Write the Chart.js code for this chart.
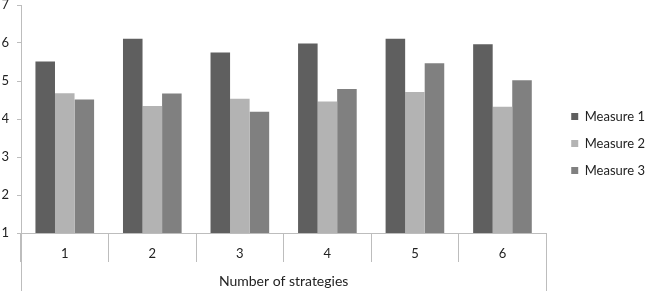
<!DOCTYPE html>
<html>
<head>
<meta charset="utf-8">
<script src="https://cdn.jsdelivr.net/npm/chart.js@4/dist/chart.umd.min.js"></script>
<style>
    html, body { margin: 0; padding: 0; background: #fff; }
    #wrap { width: 646px; height: 291px; }
</style>
</head>
<body>
<div id="wrap"><canvas id="barChart"></canvas></div>
<script>
const categories = ['1', '2', '3', '4', '5', '6'];
const seriesNames = ['Measure 1', 'Measure 2', 'Measure 3'];
const measure1 = [5.51, 6.11, 5.75, 5.99, 6.11, 5.97];
const measure2 = [4.68, 4.34, 4.53, 4.46, 4.71, 4.32];
const measure3 = [4.51, 4.67, 4.19, 4.79, 5.47, 5.02];
const yMin = 1;
const yMax = 7;
const yStep = 1;

document.addEventListener('DOMContentLoaded', function() {
    const lineGray = '#bdbdbd';
    const textColor = '#222222';

    // extends the outer lines of the category frame down to the bottom edge
    const framePlugin = {
        id: 'frame',
        afterLayout: function(chart) {
            // push the legend a bit right and up, like the original
            chart.legend.left += 11;
            chart.legend.right += 11;
            chart.legend.top -= 2;
            chart.legend.bottom -= 2;
        },
        afterDraw: function(chart) {
            const ctx = chart.ctx;
            const area = chart.chartArea;
            ctx.save();
            ctx.strokeStyle = lineGray;
            ctx.lineWidth = 1;
            ctx.beginPath();
            ctx.moveTo(Math.round(area.left) + 0.5, area.bottom);
            ctx.lineTo(Math.round(area.left) + 0.5, chart.height);
            ctx.moveTo(Math.round(area.right) + 0.5, area.bottom);
            ctx.lineTo(Math.round(area.right) + 0.5, chart.height);
            ctx.stroke();
            ctx.restore();
        }
    };

    const ctx = document.getElementById('barChart').getContext('2d');
    const barChart = new Chart(ctx, {
        type: 'bar',
        data: {
            labels: categories,
            datasets: [
                { label: seriesNames[0], data: measure1, backgroundColor: '#5f5f5f' },
                { label: seriesNames[1], data: measure2, backgroundColor: '#b3b3b3' },
                { label: seriesNames[2], data: measure3, backgroundColor: '#808080' }
            ]
        },
        options: {
            responsive: true,
            maintainAspectRatio: false,
            animation: false,
            categoryPercentage: 0.67,
            barPercentage: 1.0,
            font: { family: 'Lato', size: 13 },
            layout: {
                padding: { left: 2, right: 2, top: 0, bottom: 0 }
            },
            plugins: {
                legend: {
                    position: 'right',
                    labels: {
                        boxWidth: 7,
                        boxHeight: 7,
                        padding: 14,
                        color: textColor,
                        font: { family: 'Lato', size: 13 }
                    }
                },
                tooltip: { enabled: false }
            },
            scales: {
                x: {
                    offset: true,
                    afterFit: function(scale) {
                        scale.height = 58;
                    },
                    grid: {
                        offset: true,
                        drawOnChartArea: false,
                        tickLength: 29,
                        color: lineGray
                    },
                    border: { color: lineGray },
                    ticks: {
                        padding: -16,
                        color: textColor,
                        font: { family: 'Lato', size: 13 }
                    },
                    title: {
                        display: true,
                        text: 'Number of strategies',
                        color: textColor,
                        font: { family: 'Lato', size: 14 },
                        padding: { top: 8, bottom: 1 }
                    }
                },
                y: {
                    min: yMin,
                    max: yMax,
                    afterFit: function(scale) {
                        scale.width = 19;
                        scale.paddingTop = 5;
                    },
                    grid: {
                        drawOnChartArea: false,
                        tickLength: 4,
                        color: lineGray
                    },
                    border: { color: lineGray },
                    ticks: {
                        stepSize: yStep,
                        padding: 8,
                        color: textColor,
                        font: { family: 'Lato', size: 13 }
                    }
                }
            }
        },
        plugins: [framePlugin]
    });
});
</script>
</body>
</html>
